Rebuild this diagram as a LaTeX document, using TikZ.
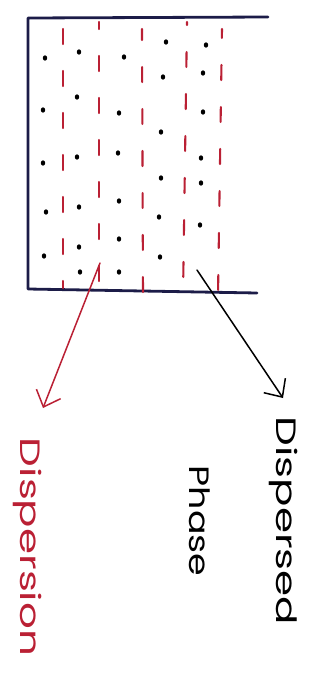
\documentclass[tikz,border=0pt]{standalone}
\usepackage{fontspec}
\setmainfont{Poppins}
\usetikzlibrary{arrows.meta,shapes.geometric}
\definecolor{ink}{RGB}{28,28,72}
\definecolor{redink}{RGB}{186,32,52}
\begin{document}
\begin{tikzpicture}[x=1pt,y=-1pt,
  frame/.style={draw=ink,line width=2.8pt,line cap=round,line join=round},
  phaseline/.style={draw=redink,line width=2.1pt,line cap=round,dash pattern=on 15pt off 27pt},
  particle/.style={fill=black,ellipse,inner sep=0pt,minimum width=4.4pt,minimum height=5.4pt},
  pointer/.style={line width=1.5pt,line cap=round,
    -{Straight Barb[length=14pt,width=26pt,line width=1.5pt]}},
  tag/.style={rotate=-90,font=\fontsize{28}{30}\selectfont,inner sep=0pt}
]
\useasboundingbox (0,0) rectangle (327,675);

% open container: top, left and bottom walls
\draw[frame] (268,17) -- (28,18) -- (28,289) -- (257,293);

% dispersion medium: red dashed columns
\draw[phaseline,dash phase=0pt]  (63,29) -- (63,288);
\draw[phaseline,dash phase=8pt]  (99,22) -- (99,290);
\draw[phaseline,dash phase=4pt]  (142,29) -- (143,296);
\draw[phaseline,dash phase=12pt] (187,22) -- (183,296);
\draw[phaseline,dash phase=6pt]  (222,29) -- (218,296);

% dispersed particles
\foreach \px/\py [count=\i] in {
  45/58, 79/52, 124/57, 166/42, 206/45,
  77/97, 163/77, 203/73,
  43/110, 119/113, 203/112, 161/132,
  43/163, 77/157, 118/153, 201/158,
  161/178, 201/183,
  46/212, 79/207, 119/201, 159/217, 200/225,
  44/256, 79/247, 119/239, 160/257,
  80/272, 119/272}
  \node[particle] (p\i) at (\px,\py) {};

% labels
\node[tag,text=redink] (medium) at (28,547) {\scalebox{1.5}[1]{Dispersion}};
\node[tag,align=center] (phase) at (244,521)
  {\scalebox{1.5}[1]{Dispersed}\\[57pt]\scalebox{1.3}[1]{Phase}};

% pointers from the container to the labels
\coordinate (mstart) at (100,263);
\coordinate (mtip) at (43,408);
\coordinate (pstart) at (197,270);
\coordinate (ptip) at (283,398);
\draw[pointer,redink] (mstart) -- (mtip);
\draw[pointer,black] (pstart) -- (ptip);
\end{tikzpicture}
\end{document}
